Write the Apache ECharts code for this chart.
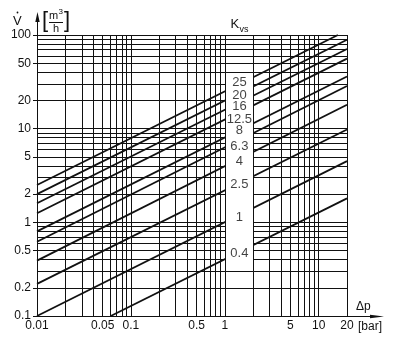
<!DOCTYPE html>
<html><head><meta charset="utf-8">
<script src="https://cdn.jsdelivr.net/npm/echarts@6/dist/echarts.min.js"></script>
<style>html,body{margin:0;padding:0;background:#fff}#c{width:397px;height:344px}</style>
</head><body><div id="c"></div>
<script>
// Kvs curves (V = flow m3/h vs dp bar), endpoints
const kvsValues = [25, 20, 16, 12.5, 8, 6.3, 4, 2.5, 1, 0.4];
const lineStart = [[0.01,2.5],[0.01,2.0],[0.01,1.6],[0.01,1.25],[0.01,0.8],[0.01,0.62],[0.01,0.39],[0.01,0.22],[0.01,0.1],[0.061,0.1]];
const lineEnd   = [[16,100],[20,89],[20,71],[20,56],[20,36],[20,28.5],[20,18],[20,9.8],[20,4.5],[20,1.8]];
// Kvs label positions (in axis units)
const labelY = [30.9, 22.8, 17.1, 12.7, 9.5, 6.4, 4.5, 2.55, 1.12, 0.47];
const labelX = 1.43;
// label box in axis units
const boxX = [1, 2];
const boxY = [0.3, 40];
// tick labels
const xTickLabels = [0.01, 0.05, 0.1, 0.5, 1, 5, 10, 20];
const yTickLabels = [0.1, 0.2, 0.5, 1, 2, 5, 10, 20, 50, 100];
// grid lines
const xGrid = [0.01,0.02,0.03,0.04,0.05,0.06,0.07,0.08,0.09,0.1,0.2,0.3,0.4,0.5,0.6,0.7,0.8,0.9,1,2,3,4,5,6,7,8,9,10,20];
const yGrid = [0.1,0.2,0.3,0.4,0.5,0.6,0.7,0.8,0.9,1,2,3,4,5,6,7,8,9,10,20,30,40,50,60,70,80,90,100];

const FONT = 'Liberation Sans';
const INK = '#111';
const chart = echarts.init(document.getElementById('c'), null, {renderer: 'canvas'});

const gridLines = xGrid.map(v => ({xAxis: v})).concat(yGrid.map(v => ({yAxis: v})));

const series = [];
series.push({
  type: 'line', data: [], z: 2, silent: true, symbol: 'none',
  markLine: {
    silent: true, symbol: 'none', animation: false, label: {show: false},
    lineStyle: {color: INK, width: 1, type: 'solid'}, emphasis: {disabled: true},
    data: gridLines
  }
});
kvsValues.forEach((k, i) => {
  series.push({
    type: 'line', name: String(k), data: [lineStart[i], lineEnd[i]], z: 3,
    symbol: 'none', silent: true, animation: false,
    lineStyle: {color: INK, width: 1.8}
  });
});
series.push({
  type: 'custom', z: 10, silent: true, animation: false,
  data: [[boxX[0], boxY[0], boxX[1], boxY[1]]],
  renderItem: (params, api) => {
    const a = api.coord([api.value(0), api.value(3)]);
    const b = api.coord([api.value(2), api.value(1)]);
    const x = Math.round(a[0]) + 0.5, y = Math.round(a[1]) + 0.5;
    const w = Math.round(b[0]) - Math.round(a[0]), h = Math.round(b[1]) - Math.round(a[1]);
    return {type: 'rect', shape: {x: x, y: y, width: w, height: h},
            style: {fill: '#fff', stroke: INK, lineWidth: 1}};
  }
});
series.push({
  type: 'scatter', z: 12, silent: true, animation: false,
  symbolSize: 1, itemStyle: {color: 'rgba(0,0,0,0)'},
  data: kvsValues.map((k, i) => [labelX, labelY[i]]),
  label: {
    show: true, position: 'inside', color: INK, fontFamily: FONT, fontSize: 13,
    formatter: p => String(kvsValues[p.dataIndex])
  }
});

chart.setOption({
  animation: false,
  backgroundColor: '#fff',
  grid: {left: 37, right: 50, top: 35, bottom: 28, containLabel: false},
  xAxis: {
    type: 'log', logBase: 10, min: 0.01, max: 20,
    axisLine: {show: true, lineStyle: {color: INK, width: 1}},
    axisTick: {show: false},
    splitLine: {show: false}, minorSplitLine: {show: false},
    axisLabel: {
      customValues: xTickLabels, color: INK, fontFamily: FONT, fontSize: 12, margin: 4,
      formatter: v => String(+(+v).toPrecision(3))
    }
  },
  yAxis: {
    type: 'log', logBase: 10, min: 0.1, max: 100,
    axisLine: {show: true, lineStyle: {color: INK, width: 1}},
    axisTick: {show: true, customValues: yTickLabels, length: 4, lineStyle: {color: INK}},
    splitLine: {show: false}, minorSplitLine: {show: false},
    axisLabel: {
      customValues: yTickLabels, color: INK, fontFamily: FONT, fontSize: 12, margin: 6,
      formatter: v => String(+(+v).toPrecision(3))
    }
  },
  series: series
});

const tl = chart.convertToPixel({gridIndex: 0}, [0.01, 100]);
const br = chart.convertToPixel({gridIndex: 0}, [20, 0.1]);
const kx = chart.convertToPixel({gridIndex: 0}, [labelX, 100])[0];
const x0 = Math.round(tl[0]) + 0.5, yTop = Math.round(tl[1]);
const xR = Math.round(br[0]), y0 = Math.round(br[1]) + 0.5;

chart.setOption({
  graphic: [
    // y arrow
    {type: 'line', shape: {x1: x0, y1: yTop, x2: x0, y2: yTop - 16}, style: {stroke: INK, lineWidth: 1}},
    {type: 'polygon', shape: {points: [[x0, yTop - 23], [x0 - 2.2, yTop - 13], [x0 + 2.2, yTop - 13]]}, style: {fill: INK}},
    // x arrow
    {type: 'line', shape: {x1: xR, y1: y0, x2: xR + 26, y2: y0}, style: {stroke: INK, lineWidth: 1}},
    {type: 'polygon', shape: {points: [[xR + 37, y0], [xR + 23, y0 - 1.8], [xR + 23, y0 + 1.8]]}, style: {fill: INK}},
    // V dot label
    {type: 'text', x: 13, y: 15, style: {text: 'V', font: '13px ' + FONT, fill: INK}},
    {type: 'circle', shape: {cx: 17.5, cy: 12.5, r: 0.9}, style: {fill: INK}},
    // [m3/h]
    {type: 'text', x: 42, y: 10, style: {text: '[', font: '22px ' + FONT, fill: INK}},
    {type: 'text', x: 64, y: 10, style: {text: ']', font: '22px ' + FONT, fill: INK}},
    {type: 'text', x: 49, y: 10, style: {text: 'm', font: '11px ' + FONT, fill: INK}},
    {type: 'text', x: 58.5, y: 8, style: {text: '3', font: '8px ' + FONT, fill: INK}},
    {type: 'line', shape: {x1: 49, y1: 22.5, x2: 63, y2: 22.5}, style: {stroke: INK, lineWidth: 1}},
    {type: 'text', x: 53, y: 23, style: {text: 'h', font: '11px ' + FONT, fill: INK}},
    // Kvs
    {type: 'text', x: kx - 9, y: yTop - 17, style: {text: 'K', font: '13px ' + FONT, fill: INK}},
    {type: 'text', x: kx, y: yTop - 10, style: {text: 'vs', font: '9px ' + FONT, fill: INK}},
    // delta p and [bar]
    {type: 'text', x: xR + 9, y: y0 - 16, style: {text: 'Δp', font: '12px ' + FONT, fill: INK}},
    {type: 'text', x: xR + 11, y: y0 + 4, style: {text: '[bar]', font: '12px ' + FONT, fill: INK}}
  ]
});
</script>
</body></html>
